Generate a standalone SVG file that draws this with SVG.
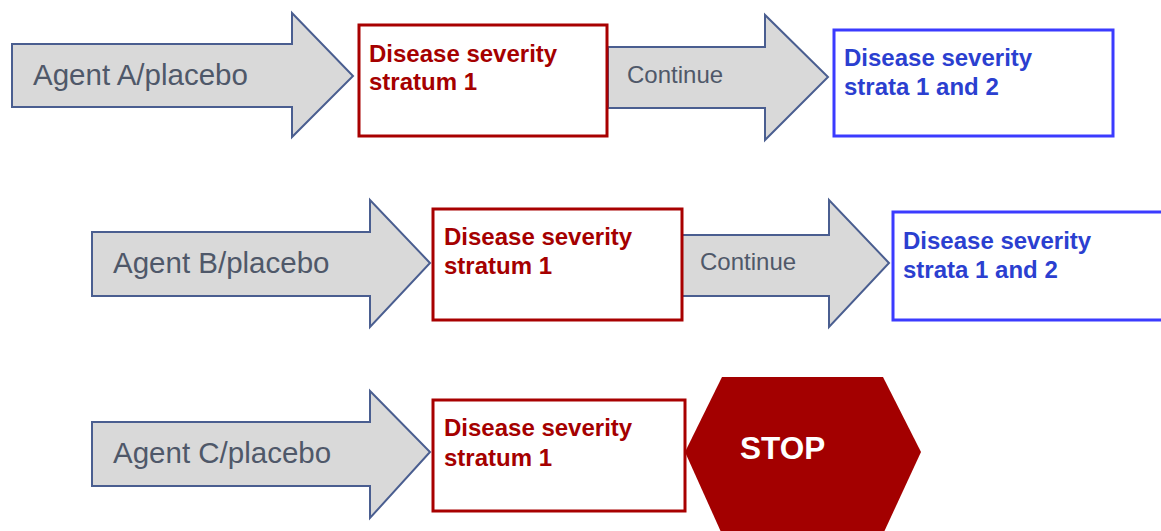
<svg xmlns="http://www.w3.org/2000/svg" width="1161" height="531" viewBox="0 0 1161 531">
<style>
.arrow{fill:#d9d9d9;stroke:#4a5e90;stroke-width:2;stroke-linejoin:miter}
.red{fill:#ffffff;stroke:#a80000;stroke-width:3}
.blue{fill:#ffffff;stroke:#3b3bff;stroke-width:3}
.agent{font-family:"Liberation Sans",Arial,sans-serif;font-size:29.5px;fill:#4f5869}
.cont{font-family:"Liberation Sans",Arial,sans-serif;font-size:24px;fill:#4f5869}
.rt{font-family:"Liberation Sans",Arial,sans-serif;font-size:24px;font-weight:bold;fill:#a50000}
.bt{font-family:"Liberation Sans",Arial,sans-serif;font-size:24px;font-weight:bold;fill:#2b3fd0}
.stop{fill:#a30000}
.stopt{font-family:"Liberation Sans",Arial,sans-serif;font-size:31.5px;font-weight:bold;fill:#ffffff}
</style>
<g id="connectors">
<g id="arrowA"><polygon class="arrow" points="12,44 292,44 292,13 353,76 292,137 292,107 12,107"/><text class="agent" x="33" y="85">Agent A/placebo</text></g>
<g id="contA"><polygon class="arrow" points="608,47 765,47 765,15 828,77 765,140 765,108 608,108"/><text class="cont" x="627" y="83">Continue</text></g>
<g id="arrowB"><polygon class="arrow" points="92,232 370,232 370,200 430,263 370,327 370,296 92,296"/><text class="agent" x="113" y="273">Agent B/placebo</text></g>
<g id="contB"><polygon class="arrow" points="682,235 829,235 829,200 889,263 829,327 829,296 682,296"/><text class="cont" x="700" y="270">Continue</text></g>
<g id="arrowC"><polygon class="arrow" points="92,422 370,422 370,391 430,452 370,518 370,486 92,486"/><text class="agent" x="113" y="463">Agent C/placebo</text></g>
</g>
<g id="boxA1"><rect class="red" x="359" y="25" width="248" height="111"/><text class="rt" x="369" y="62">Disease severity</text><text class="rt" x="369" y="90">stratum 1</text></g>
<g id="boxA2"><rect class="blue" x="834" y="30" width="279" height="106"/><text class="bt" x="844" y="66">Disease severity</text><text class="bt" x="844" y="95">strata 1 and 2</text></g>
<g id="boxB1"><rect class="red" x="433" y="209" width="249" height="111"/><text class="rt" x="444" y="245">Disease severity</text><text class="rt" x="444" y="274">stratum 1</text></g>
<g id="boxB2"><rect class="blue" x="893" y="212" width="272" height="108"/><text class="bt" x="903" y="249">Disease severity</text><text class="bt" x="903" y="278">strata 1 and 2</text></g>
<g id="boxC1"><rect class="red" x="433" y="400" width="252" height="111"/><text class="rt" x="444" y="436">Disease severity</text><text class="rt" x="444" y="466">stratum 1</text></g>
<g id="stop"><polygon class="stop" points="722,377 883,377 921,452 884,532 721,532 685,452"/><text class="stopt" x="740" y="459">STOP</text></g>
</svg>
